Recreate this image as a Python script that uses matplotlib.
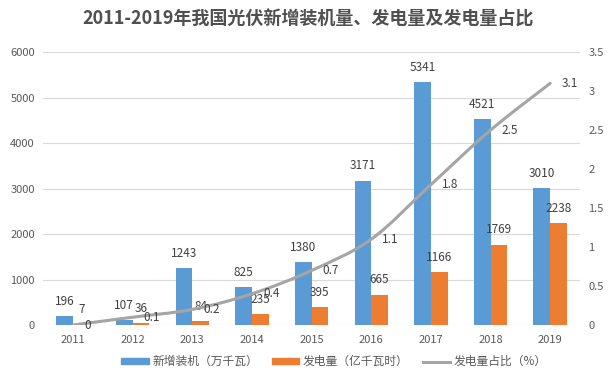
import numpy as np
import matplotlib
matplotlib.use('Agg')
import matplotlib.pyplot as plt
from matplotlib.path import Path
from matplotlib.patches import PathPatch, Patch
from matplotlib.lines import Line2D

plt.rcParams['font.family'] = ['Noto Sans CJK SC', 'DejaVu Sans']

# data
years = ['2011', '2012', '2013', '2014', '2015', '2016', '2017', '2018', '2019']
new_install = [196, 107, 1243, 825, 1380, 3171, 5341, 4521, 3010]   # 万千瓦
generation = [7, 36, 84, 235, 395, 665, 1166, 1769, 2238]          # 亿千瓦时
share = [0, 0.1, 0.2, 0.4, 0.7, 1.1, 1.8, 2.5, 3.1]                 # %

blue = '#5B9BD5'
orange = '#ED7D31'
gray = '#A5A5A5'
txt = '#595959'

fig = plt.figure(figsize=(6.16, 3.89), dpi=100)
ax = fig.add_axes([0.07, 0.1645, 0.8716, 0.7015])
ax2 = ax.twinx()

x = np.arange(len(years))
w = 0.28
b1 = ax.bar(x - w / 2, new_install, w, color=blue, zorder=2)
b2 = ax.bar(x + w / 2, generation, w, color=orange, zorder=2)
ax.bar_label(b1, padding=6, fontsize=8.5, color='#404040')
ax.bar_label(b2, padding=6, fontsize=8.5, color='#404040')

ax.set_xlim(-0.5, len(years) - 0.5)
ax.set_ylim(0, 6000)
ax.set_yticks(range(0, 6001, 1000))
ax.set_xticks(x)
ax.set_xticklabels(years)
ax.grid(axis='y', color='#D9D9D9', linewidth=0.8, zorder=0)
ax.set_axisbelow(True)

ax2.set_ylim(0, 3.5)
ax2.set_yticks(np.arange(0, 3.51, 0.5))
ax2.set_yticklabels(['0', '0.5', '1', '1.5', '2', '2.5', '3', '3.5'])

for a in (ax, ax2):
    for s in a.spines.values():
        s.set_visible(False)
    a.tick_params(length=0, labelsize=8, colors=txt)
ax.tick_params(axis='x', pad=7)
ax.tick_params(axis='y', pad=6)
ax2.tick_params(axis='y', pad=6)

# smoothed share line (Catmull-Rom style bezier through the data points)
pts = np.column_stack([x, share]).astype(float)
verts = [tuple(pts[0])]
codes = [Path.MOVETO]
n = len(pts)
for i in range(n - 1):
    p0 = pts[max(i - 1, 0)]
    p1 = pts[i]
    p2 = pts[i + 1]
    p3 = pts[min(i + 2, n - 1)]
    c1 = p1 + (p2 - p0) / 6
    c2 = p2 - (p3 - p1) / 6
    verts += [tuple(c1), tuple(c2), tuple(p2)]
    codes += [Path.CURVE4] * 3
ax2.add_patch(PathPatch(Path(verts, codes), facecolor='none', edgecolor=gray,
                        linewidth=2.2, capstyle='round', zorder=3))

for xi, v in zip(x, share):
    ax2.annotate(f'{v:g}', (xi, v), xytext=(8, 0), textcoords='offset points',
                 ha='left', va='center', fontsize=8.5, color='#404040')

fig.suptitle('2011-2019年我国光伏新增装机量、发电量及发电量占比',
             x=0.5, y=0.975, fontsize=13, fontweight='bold', color='#505050')

handles = [Patch(color=blue), Patch(color=orange),
           Line2D([0], [0], color=gray, linewidth=2.2)]
labels = ['新增装机（万千瓦）', '发电量（亿千瓦时）', '发电量占比（%）']
fig.legend(handles, labels, loc='center', bbox_to_anchor=(0.542, 0.07), ncol=3,
           frameon=False, fontsize=8.5, labelcolor=txt, handlelength=2.3,
           handleheight=0.45, columnspacing=1.2, handletextpad=0.3)

fig.savefig('out.png', dpi=100)
